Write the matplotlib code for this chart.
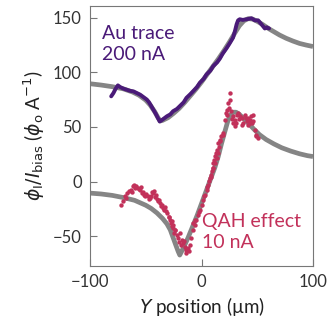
import matplotlib.pyplot as plt

plt.rcParams["font.family"] = ["Lato", "DejaVu Sans"]
plt.rcParams["mathtext.fontset"] = "dejavusans"

# model curves (grey)
au_fit_y = [-100, -90, -80, -70, -62, -56, -50, -46, -42, -39, -37, -35, -30, -25, -20, -15,
            -10, -5, 0, 5, 10, 15, 20, 25, 30, 34, 38, 42, 46, 50, 55, 60, 65, 70, 76, 82,
            88, 94, 100]
au_fit_v = [89.5, 88.3, 86.8, 84.8, 82, 79, 74.5, 70, 64, 58.5, 55.5, 56, 58.5, 62.5, 67, 72.5,
            78.5, 84.5, 91, 98, 105, 112, 119.5, 127.5, 136, 142.5, 147, 149, 148.5, 146.5, 143.5,
            140, 137, 134, 131, 128.5, 126.3, 124.8, 123.5]

qah_fit_y = [-100, -90, -80, -70, -60, -50, -45, -40, -35, -31, -28, -25.5, -23, -21, -19.5,
             -16, -12, -8, -4, 0, 4, 8, 12, 15, 18, 21, 23.5, 26, 28.5, 31, 34, 37, 42, 47,
             52, 58, 65, 72, 80, 88, 95, 100]
qah_fit_v = [-10.4, -11.2, -12.5, -14.5, -17, -21.5, -24.5, -28.5, -33.5, -38.5, -44, -51, -58,
             -63.5, -67, -60, -51, -41, -31, -20, -9, 2, 13, 23, 35, 46, 55, 61, 63.5, 63.5,
             61.5, 58.5, 53.5, 48, 43, 38.5, 34.5, 31, 28, 25.5, 23.8, 23]

# Au trace, 200 nA
au_y = [-81, -79, -77, -75, -73, -70, -67, -64, -61, -58, -55, -53, -51, -49, -47, -45, -43,
        -41, -39, -37.5, -36, -34, -31, -28, -25.5, -22, -19.5, -16, -13.5, -10, -7.5, -4,
        -1.5, 2, 4.5, 8, 10.5, 14, 16.5, 19, 22.5, 25, 28.3, 30, 31.5, 32.8, 34.3, 37, 40.4,
        42.5, 44.8, 47.8, 50.8, 53.8, 56.8, 58.5, 60.6]
au_v = [78, 81, 85, 88, 86.5, 85, 84, 83, 82.5, 81, 79.5, 78, 76.5, 75, 72.5, 69, 65.5, 62,
        58, 55, 56, 57.5, 59.8, 61.5, 64.4, 66.5, 69, 72.5, 76.6, 80, 82.7, 86.5, 90.4, 94,
        98, 101.5, 105.6, 109, 112.5, 117, 122, 126, 131.6, 137.6, 143.8, 147.4, 148.4, 147.8,
        148.4, 148.8, 149.3, 147.4, 147.4, 143.8, 140, 141, 140]

# QAH effect, 10 nA
qah_y = [-72.1, -70.6, -68.5, -66.7, -64.6, -63.1, -61.6, -60.1, -58.7, -57.1, -55.6, -54.7,
         -53.5, -51.7, -50.6, -49.7, -48.2, -46.6, -45.2, -43.7, -42.2, -40.7, -39.8, -38.6,
         -37.7, -36.8, -35.6, -34.7, -33.2, -31.7, -30.9, -29.6, -28.7, -27.8, -26.6, -25.7,
         -23.7, -26.9, -25.5, -23.9, -22.4, -21.0, -19.5, -17.9, -16.5, -15.0, -14.1, -13.5,
         -12.0, -10.5, -9.0, -7.5, -6.0, -4.5, -3.0, -1.5, 0.0, 1.5, 3.0, 4.5, 5.9, 6.8, 7.4,
         8.1, 9.0, 9.9, 10.4, 11.0, 11.9, 12.8, 13.5, 10.4, 11.9, 13.5, 14.9, 14.9, 16.4, 17.0,
         17.9, 19.4, 20.9, 21.8, 23.0, 23.9, 24.8, 25.4, 26.0, 26.9, 28.3, 28.3, 29.9, 29.9,
         30.8, 31.4, 32.8, 34.3, 35.9, 35.9, 37.3, 38.8, 40.4, 41.8, 41.8, 43.3, 43.3, 44.8,
         46.3, 46.3, 47.8, 49.3, 49.3, 50.8, -7.5, -6.0, -20.5, -11.0,
         -67.5, -62.5, -59.5, -56.5, -52.5, -47.5, -44.5, -41.5, -36.0, -32.5, -29.0, -24.5,
         -18.5, -16.0, -2.5, 2.0, 5.0, 8.5, 16.0, 19.0, 22.5, 27.5, 33.5, 39.5, 45.0]
qah_v = [-21.1, -18.0, -12.8, -10.4, -8.9, -7.3, -4.3, -2.7, -3.7, -5.8, -8.0, -4.9, -10.4,
         -11.9, -13.5, -11.0, -12.8, -14.9, -13.5, -10.4, -8.9, -11.9, -15.8, -18.0, -16.5,
         -19.5, -21.1, -24.1, -25.6, -27.2, -28.7, -31.8, -34.8, -37.8, -40.9, -42.4, -44.0,
         -36.3, -39.4, -44.0, -48.5, -51.6, -47.0, -53.1, -56.1, -59.2, -65.3, -62.3, -60.7,
         -57.7, -51.6, -44.0, -39.4, -34.8, -30.2, -25.6, -21.1, -16.5, -11.9, -7.3, -2.7, 0.3,
         3.4, 6.4, 9.4, 12.5, 17.1, 20.1, 23.2, 26.3, 29.3, 12.5, 17.1, 21.7, 26.3, 35.4, 38.5,
         36.9, 41.5, 44.6, 56.8, 62.9, 65.9, 72.1, 67.5, 75.1, 81.2, 64.4, 59.8, 53.8, 56.8,
         50.6, 53.8, 61.4, 62.9, 59.8, 58.3, 52.2, 53.8, 61.4, 55.2, 58.3, 52.2, 56.8, 53.8,
         59.8, 61.4, 55.2, 47.6, 43.0, 41.5, 40.0, -37.8, -34.8, -55.0, -63.0,
         -14.5, -9.5, -6.0, -7.0, -9.0, -15.5, -9.5, -14.0, -22.5, -23.0, -32.0, -46.5,
         -58.0, -54.0, -27.5, -13.5, -4.5, 4.0, 32.0, 42.5, 60.5, 57.0, 57.5, 58.0, 54.0]

purple = "#4a1a78"
crimson = "#c2315a"
grey = "#858585"

fig = plt.figure(figsize=(3.35, 3.25), dpi=100)
ax = fig.add_axes([0.2687, 0.1815, 0.6656, 0.80])

ax.plot(au_fit_y, au_fit_v, color=grey, lw=3.4, solid_capstyle="butt", zorder=1)
ax.plot(qah_fit_y, qah_fit_v, color=grey, lw=3.4, solid_capstyle="butt", zorder=1)
ax.plot(au_y, au_v, color=purple, lw=2.8, solid_joinstyle="round",
        solid_capstyle="round", zorder=3)
ax.scatter(qah_y, qah_v, s=10, color=crimson, linewidths=0, zorder=3)

ax.text(-89, 143, "Au trace\n200 nA", color=purple, fontsize=14, va="top", ha="left",
        linespacing=1.25)
ax.text(0, -29, "QAH effect\n10 nA", color=crimson, fontsize=14, va="top", ha="left",
        linespacing=1.25)

ax.set_xlim(-100, 100)
ax.set_ylim(-77, 160.5)
ax.set_xticks([-100, 0, 100])
ax.set_yticks([-50, 0, 50, 100, 150])
ax.set_xticklabels(["\u2212100", "0", "100"])
ax.set_yticklabels(["\u221250", "0", "50", "100", "150"])
ax.tick_params(direction="in", length=5, width=0.8, color="#777777", labelsize=12,
               labelcolor="#333333", pad=6)
for s in ax.spines.values():
    s.set_color("#777777")
    s.set_linewidth(0.8)

ax.set_xlabel("$\\mathit{Y}$ position (\u00b5m)", fontsize=13.5, color="#222222", labelpad=3)
ax.set_ylabel(r"$\phi_\mathrm{I}/I_\mathrm{bias}$ ($\phi_\mathrm{o}$ A$^{-1}$)",
              fontsize=13.5, color="#222222", labelpad=4)

fig.savefig("out.png", dpi=100)
